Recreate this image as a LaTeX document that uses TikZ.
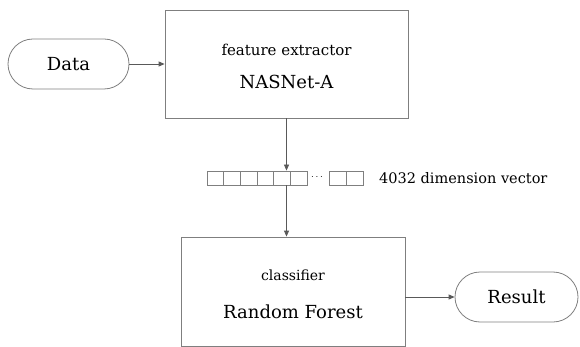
\documentclass[tikz,border=0pt]{standalone}
\usepackage{fontspec}
\setmainfont{DejaVu Serif}
\usetikzlibrary{arrows.meta,positioning}
\definecolor{linegray}{HTML}{7F7F7F}
\definecolor{arrowgray}{HTML}{595959}

\begin{document}
\begin{tikzpicture}[x=1pt, y=-1pt,
	main/.style = {draw=linegray, line width=0.8pt, inner sep=0pt},
	pill/.style = {main, rounded corners=25pt, minimum width=121pt, minimum height=50pt, font=\fontsize{18}{20}\selectfont},
	cell/.style = {main, minimum width=16.67pt, minimum height=14pt},
	small/.style = {font=\fontsize{14}{16}\selectfont},
	big/.style = {font=\fontsize{18}{20}\selectfont},
	arr/.style = {draw=arrowgray, line width=0.8pt, -{Triangle[length=6pt,width=5pt]}}]
	\useasboundingbox (0,0) rectangle (580,347);

	%% Nodes
	\node[pill] (data) at (68.5,64) {Data};
	\node[main, minimum width=243pt, minimum height=108pt] (feat) at (286.5,64) {};
	\node[font=\fontsize{15}{17}\selectfont] (featname) at (286.5,50) {feature extractor};
	\node[big] (nasnet) at (286.5,82) {NASNet-A};

	\foreach \i in {1,...,6}
		\node[cell] (c\i) at ({207+16.67*(\i-0.5)},178) {};
	\node[inner sep=0pt, font=\bfseries] (dots) at (317,177) {$\cdots$};
	\node[cell, minimum width=17pt] (d1) at (337.5,178) {};
	\node[cell, minimum width=17pt] (d2) at (354.5,178) {};
	\node[font=\fontsize{14.5}{16}\selectfont, anchor=west, inner sep=0pt] (dim) at (379,178) {4032 dimension vector};

	\node[main, minimum width=224pt, minimum height=109pt] (clf) at (293,291.5) {};
	\node[small] (clfname) at (293,275) {classifier};
	\node[big] (forest) at (293,312) {Random Forest};

	\node[pill, minimum width=123pt] (result) at (516.5,297) {Result};

	%% Edges
	\draw[arr] (data) -- (feat);
	\draw[arr] (feat.south) -- (feat.south |- c5.north);
	\draw[arr] (feat.south |- c5.south) -- (feat.south |- clf.north);
	\draw[arr] (clf.east |- result) -- (result);
\end{tikzpicture}
\end{document}
